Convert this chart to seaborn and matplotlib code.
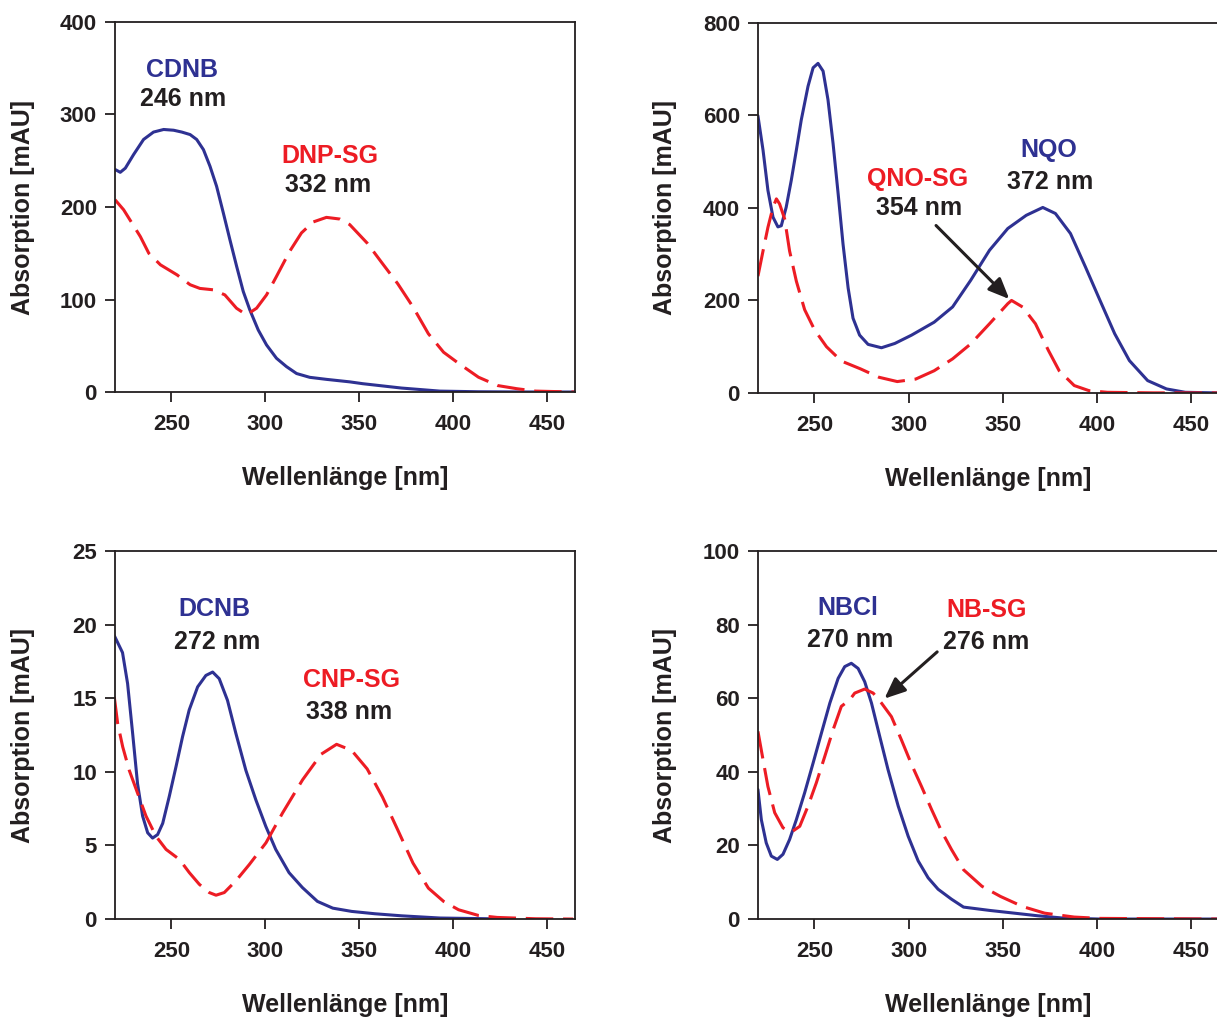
import matplotlib
matplotlib.use("Agg")
import matplotlib.pyplot as plt
import seaborn as sns
import pandas as pd

# =========================
# DATA
# =========================

# panel A: CDNB / DNP-SG
cdnb_wl = [220.2, 222.8, 225.5, 229.9, 235.2, 240.5, 245.9, 251.2, 255.6, 260, 263.5, 267.1,
           270.6, 274.1, 277.7, 281.2, 284.8, 288.3, 291.8, 296.3, 300.7, 306, 311.3, 316.7,
           323.7, 332.6, 345, 352, 372.6, 393, 413.6, 440, 465]
cdnb_abs = [240.4, 237.5, 242, 256.7, 273, 281, 283.8, 283, 281, 278.3, 273, 262,
            244, 222.4, 193.5, 164.6, 135.7, 108.7, 88.8, 67, 50.9, 36.5, 27.5, 20,
            15.9, 13.7, 11, 9, 4.3, 1, 0.3, 0.05, 0]
dnpsg_wl = [220, 224.6, 229, 233.5, 238, 244.2, 253, 260, 265.2, 272.3, 278.5, 284.7, 290,
            295.4, 300.7, 306, 313, 319.3, 325.5, 332.6, 339.7, 345, 354.3, 362.4, 370.6,
            378.7, 386.9, 395, 403, 413.6, 423.8, 434, 444, 465]
dnpsg_abs = [207.9, 197, 182.7, 168, 150, 137.5, 126.7, 116, 112, 110.5, 105, 90.6, 83.4,
             90.6, 105, 125, 152, 172, 183.8, 188.8, 187, 181, 161, 139, 117,
             92, 63, 43, 31, 16, 7, 3.6, 1, 0]

# panel B: NQO / QNO-SG
nqo_wl = [220, 222.7, 225.3, 228, 230.6, 232.4, 235, 237.7, 240.4, 243, 246.6, 249.3, 251.9,
          254.6, 257.2, 259.9, 262.6, 265.2, 267.9, 270.5, 274, 278.5, 285.6, 292.7, 301.6,
          313.6, 323.4, 333, 343, 352.7, 362.5, 371.3, 378, 386, 394, 401.7, 409.5, 417.3,
          427, 437, 447, 465]
nqo_abs = [599, 525, 438, 380, 359, 361.5, 401.5, 459.6, 525, 590, 663, 703, 712.5,
           695.8, 634, 539.5, 430.5, 321.5, 227, 161.6, 125, 105, 97.7, 107, 125,
           153, 186, 243.5, 308.5, 355.5, 384, 401, 388, 344.7, 272, 200, 128, 70,
           26.7, 8.7, 1.4, 0]
qnosg_wl = [220, 222.7, 225.3, 228, 229.8, 231.5, 234.2, 236.8, 240.4, 244.8, 250.1, 256.4,
            264.3, 274.5, 284.2, 294, 303.8, 313.6, 323.4, 333, 343, 352.7, 354.7, 360.6,
            367.4, 374.3, 380, 388, 395.8, 405.6, 430, 465]
qnosg_abs = [252.5, 307, 358, 401.5, 419.6, 408.7, 376, 307, 241.6, 180, 136.2, 100,
             69, 52, 34, 24.6, 30, 48, 73.7, 106, 149.6, 193, 200, 185.7,
             149.6, 91.8, 48, 16, 5, 1.4, 0.2, 0]

# panel C: DCNB / CNP-SG
dcnb_wl = [219.6, 224, 226.7, 229.4, 232, 234.7, 237.4, 240, 242.7, 245.4, 248.9, 252.5, 256,
           259.5, 264, 268.4, 272, 275.5, 279.9, 284.4, 289.7, 295, 300.3, 305.6, 312.7,
           319.8, 327.8, 336, 346, 358.4, 372.6, 393, 430]
dcnb_abs = [19.26, 18.1, 16, 12.6, 9.2, 7, 5.86, 5.5, 5.74, 6.5, 8.33, 10.36, 12.4,
            14.2, 15.77, 16.55, 16.78, 16.33, 14.86, 12.6, 10.1, 8.1, 6.3, 4.73, 3.15,
            2.14, 1.2, 0.74, 0.52, 0.36, 0.22, 0.07, 0]
cnpsg_wl = [219.6, 221.4, 224.1, 227.6, 232, 236.5, 241.8, 247.2, 254.3, 259.6, 264.9, 270.2,
            273.8, 278.2, 284.4, 291.5, 300.4, 309.2, 319.9, 329.8, 338, 346, 354.3, 362.4,
            370.6, 378.7, 386.9, 395, 403, 413.4, 423.5, 444, 464]
cnpsg_abs = [15.1, 13.3, 11.7, 10.1, 8.56, 7, 5.63, 4.73, 4.05, 3.15, 2.36, 1.8,
             1.62, 1.8, 2.6, 3.7, 5.18, 7.2, 9.46, 11.2, 11.87, 11.46, 10.2, 8.3,
             6.05, 3.8, 2.1, 1.2, 0.63, 0.25, 0.11, 0.02, 0]

# panel D: NBCl / NB-SG
nbcl_wl = [220, 221.8, 224.4, 227.1, 230.3, 233.3, 236.8, 240.4, 244.8, 249.3, 253.7, 258.2,
           262.6, 266.1, 269.6, 273.2, 276.7, 280.3, 284.7, 289.1, 294.5, 299.8, 305.1, 310.4,
           315.7, 322.8, 329.2, 343, 352.7, 368.4, 382, 401.7, 465]
nbcl_abs = [35.2, 27, 20.7, 17.1, 16.2, 17.6, 21.6, 27, 34.3, 42.4, 50.5, 58.7,
            65.4, 68.6, 69.5, 68.1, 64.5, 58.7, 49.6, 40.6, 30.7, 22.5, 15.8, 11.2,
            8.1, 5.4, 3.25, 2.35, 1.8, 0.9, 0.27, 0, 0]
nbsg_wl = [220, 222.7, 225.3, 228.9, 233.3, 237.7, 242.2, 246.6, 251, 255.5, 259.9, 264.3,
           268.8, 271.4, 276.7, 281.2, 285.6, 290.9, 296.2, 301.6, 306.9, 312.2, 317.5, 322.8,
           329.2, 339, 348.8, 360.6, 372.3, 388, 401.7, 465]
nbsg_abs = [51, 43.3, 36, 28.9, 24.8, 23.6, 25.2, 30.7, 37, 44.2, 51.4, 57.8,
            59.6, 61.4, 62.5, 61.4, 58.7, 55, 48.7, 42, 36, 29.8, 23.9, 18.9,
            13.4, 8.9, 6.15, 3.4, 1.6, 0.54, 0.18, 0]

# =========================
# STYLE
# =========================

sns.set_style("ticks")
plt.rcParams['font.family'] = ['Liberation Sans', 'DejaVu Sans']
plt.rcParams['font.weight'] = 'bold'

BLUE = '#2E3192'
RED = '#ED1C24'
DARK = '#231F20'

fig = plt.figure(figsize=(12.17, 10.18), dpi=100)

panels = [
    dict(rect=[0.0945, 0.6149, 0.378, 0.3635], ylim=(0, 400), yticks=[0, 100, 200, 300, 400],
         blue=(cdnb_wl, cdnb_abs), red=(dnpsg_wl, dnpsg_abs),
         texts=[("CDNB", 255.5, 348, BLUE), ("246 nm", 256.5, 317, DARK),
                ("DNP-SG", 334.3, 255.5, RED), ("332 nm", 333.3, 224, DARK)],
         arrow=None),
    dict(rect=[0.6228, 0.6140, 0.379, 0.3635], ylim=(0, 800), yticks=[0, 200, 400, 600, 800],
         blue=(nqo_wl, nqo_abs), red=(qnosg_wl, qnosg_abs),
         texts=[("NQO", 374.3, 525, BLUE), ("372 nm", 375.2, 456.6, DARK),
                ("QNO-SG", 304.8, 461.7, RED), ("354 nm", 305.8, 398.8, DARK)],
         arrow=((314.6, 362), (353.5, 203))),
    dict(rect=[0.0945, 0.0972, 0.378, 0.3615], ylim=(0, 25), yticks=[0, 5, 10, 15, 20, 25],
         blue=(dcnb_wl, dcnb_abs), red=(cnpsg_wl, cnpsg_abs),
         texts=[("DCNB", 272.8, 21.05, BLUE), ("272 nm", 274.2, 18.8, DARK),
                ("CNP-SG", 345.7, 16.27, RED), ("338 nm", 344.7, 14.06, DARK)],
         arrow=None),
    dict(rect=[0.6228, 0.0972, 0.379, 0.3615], ylim=(0, 100), yticks=[0, 20, 40, 60, 80, 100],
         blue=(nbcl_wl, nbcl_abs), red=(nbsg_wl, nbsg_abs),
         texts=[("NBCl", 267.6, 84.4, BLUE), ("270 nm", 269, 75.8, DARK),
                ("NB-SG", 341.4, 83.9, RED), ("276 nm", 341.4, 75.3, DARK)],
         arrow=((315.2, 72.6), (287.2, 59.9))),
]

for p in panels:
    ax = fig.add_axes(p['rect'])
    dfb = pd.DataFrame({'wl': p['blue'][0], 'abs': p['blue'][1]})
    dfr = pd.DataFrame({'wl': p['red'][0], 'abs': p['red'][1]})
    sns.lineplot(data=dfb, x='wl', y='abs', ax=ax, color=BLUE, linewidth=2.2,
                 solid_joinstyle='round', solid_capstyle='round')
    sns.lineplot(data=dfr, x='wl', y='abs', ax=ax, color=RED, linewidth=2.2,
                 linestyle=(0, (9, 3.2)), dash_joinstyle='round')

    ax.set_xlim(220, 465)
    ax.set_ylim(*p['ylim'])
    ax.set_xticks([250, 300, 350, 400, 450])
    ax.set_yticks(p['yticks'])

    for s in ax.spines.values():
        s.set_visible(True)
        s.set_color(DARK)
        s.set_linewidth(1.3)
    ax.tick_params(direction='out', length=7, width=1.3, color=DARK,
                   labelsize=16, labelcolor=DARK)
    ax.tick_params(axis='x', pad=9)
    ax.tick_params(axis='y', pad=6)
    for lab in ax.get_xticklabels() + ax.get_yticklabels():
        lab.set_fontweight('bold')

    ax.set_xlabel("Wellenlänge [nm]", fontsize=18, fontweight='bold', color=DARK)
    ax.set_ylabel("Absorption [mAU]", fontsize=18, fontweight='bold', color=DARK)
    ax.xaxis.set_label_coords(0.5, -0.2)
    ax.yaxis.set_label_coords(-0.175, 0.5)

    for txt, x, y, c in p['texts']:
        ax.text(x, y, txt, color=c, fontsize=18, fontweight='bold', ha='center', va='center')

    if p['arrow'] is not None:
        start, end = p['arrow']
        ax.annotate('', xy=end, xytext=start,
                    arrowprops=dict(arrowstyle='-|>,head_length=0.7,head_width=0.3',
                                    color=DARK, lw=2.2, mutation_scale=18,
                                    shrinkA=0, shrinkB=0))

fig.savefig("out.png", dpi=100)
